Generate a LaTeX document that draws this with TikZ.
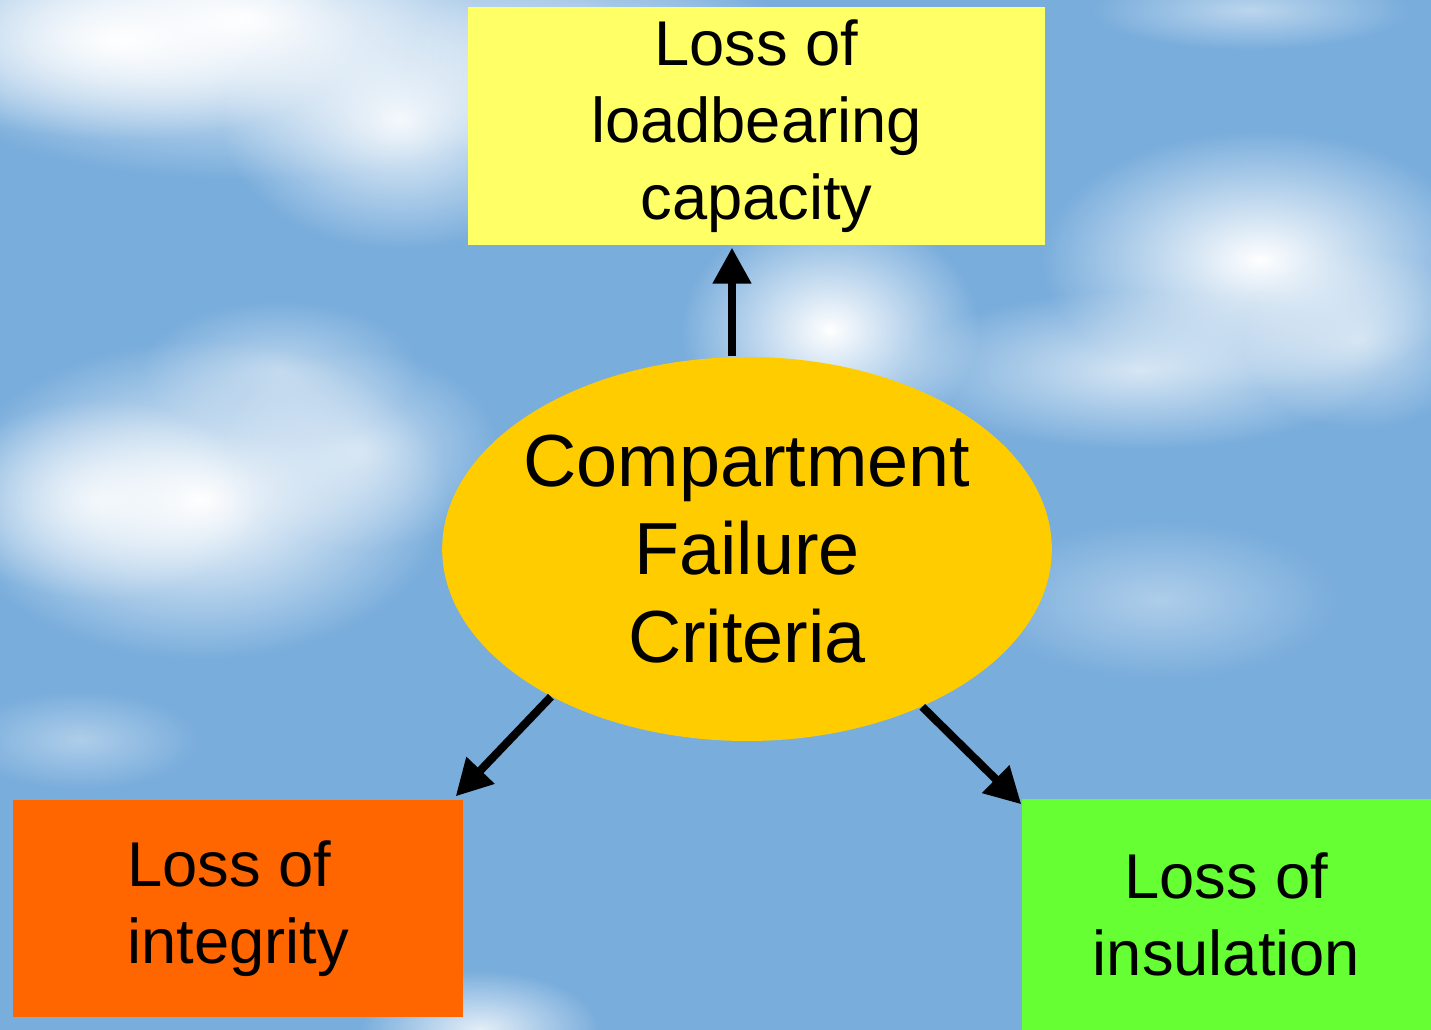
\documentclass[tikz,border=0pt]{standalone}
\usepackage{fontspec}
\setmainfont{Liberation Sans}
\usetikzlibrary{arrows.meta,shapes.geometric,fadings}

\definecolor{sky}{HTML}{79ADDC}
\definecolor{loadyel}{HTML}{FFFF66}
\definecolor{critgold}{HTML}{FFCC00}
\definecolor{integorg}{HTML}{FF6600}
\definecolor{insulgrn}{HTML}{66FF33}
\tikzfading[name=puff, inner color=transparent!0, outer color=transparent!100]

\begin{document}
\begin{tikzpicture}[
  puff/.style   ={white, path fading=puff, fill opacity=#1},
  crbox/.style  ={rectangle, fill=#1, inner sep=0pt, align=center,
                  font=\fontsize{18}{22}\selectfont},
  critov/.style ={ellipse, fill=critgold, inner xsep=-0.08cm, inner ysep=0pt,
                  align=center, minimum height=3.84cm,
                  font=\fontsize{21}{25}\selectfont},
  arr/.style    ={line width=2.3pt, -{Triangle[length=0.36cm, width=0.37cm]}}]

  \useasboundingbox (0,0) rectangle (14.31,10.30);

  % sky
  \fill[sky] (0,0) rectangle (14.31,10.30);

  % clouds
  \fill[puff=1.0]  (2.4,10.1) ellipse (3.8 and 1.6);
  \fill[puff=1.0]  (1.2,9.9)  ellipse (2.4 and 1.0);
  \fill[puff=0.9]  (4.0,9.1)  ellipse (1.8 and 1.3);
  \fill[puff=0.7]  (6.0,9.6)  ellipse (2.0 and 1.2);
  \fill[puff=1.0]  (8.3,7.0)  ellipse (1.5 and 1.2);
  \fill[puff=0.5]  (2.8,6.6)  ellipse (1.4 and 0.7);
  \fill[puff=1.0]  (2.0,5.3)  ellipse (2.5 and 1.6);
  \fill[puff=0.8]  (1.0,5.3)  ellipse (1.6 and 1.0);
  \fill[puff=0.6]  (3.6,5.8)  ellipse (1.4 and 1.0);
  \fill[puff=1.0]  (12.6,7.7) ellipse (2.2 and 1.3);
  \fill[puff=0.7]  (11.4,6.6) ellipse (2.4 and 0.8);
  \fill[puff=0.6]  (13.6,6.9) ellipse (1.2 and 0.9);
  \fill[puff=0.4]  (11.6,4.3) ellipse (1.8 and 0.8);
  \fill[puff=0.5]  (12.5,10.2) ellipse (1.6 and 0.4);
  \fill[puff=0.8]  (4.8,0.0)  ellipse (1.2 and 0.6);
  \fill[puff=0.4]  (0.8,2.9)  ellipse (1.2 and 0.5);

  % criteria and the three failure modes
  \node[critov] (crit) at (7.47,4.81) {Compartment\\Failure\\Criteria};
  \node[crbox=loadyel, minimum width=5.77cm, minimum height=2.38cm]
    (load) at (7.565,9.04) {Loss of\\loadbearing\\capacity};
  \node[crbox=integorg, align=left, minimum width=4.50cm, minimum height=2.17cm]
    (integ) at (2.38,1.215) {Loss of\\integrity};
  \node[crbox=insulgrn, minimum width=4.09cm, minimum height=2.31cm]
    (insul) at (12.265,1.155) {Loss of\\insulation};

  % arrows
  \draw[arr] ([xshift=-0.15cm]crit.north) -- ([xshift=-0.245cm,yshift=-0.02cm]load.south);
  \draw[arr] (crit.217.6) -- ([xshift=-0.08cm,yshift=0.03cm]integ.north east);
  \draw[arr] (crit.-42.4) -- ([yshift=-0.06cm]insul.north west);
\end{tikzpicture}
\end{document}
